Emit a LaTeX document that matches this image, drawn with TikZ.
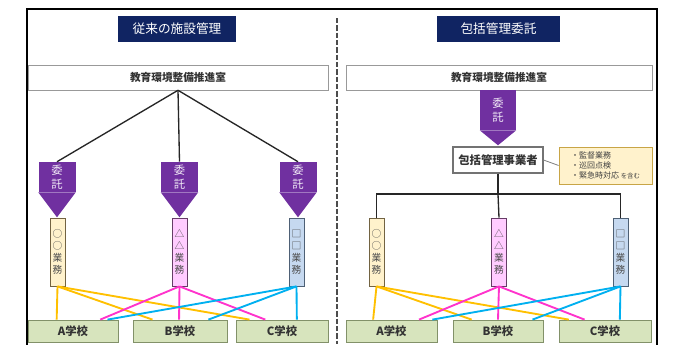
\documentclass[tikz,border=0pt]{standalone}
\usepackage{fontspec}
\setmainfont{Noto Sans CJK JP}
\usetikzlibrary{calc}
\definecolor{navy}{RGB}{16,36,98}
\definecolor{purp}{RGB}{112,48,160}
\definecolor{ylf}{RGB}{255,242,204}
\definecolor{yld}{RGB}{190,165,110}
\definecolor{pkf}{RGB}{255,204,255}
\definecolor{pkd}{RGB}{170,100,170}
\definecolor{blf}{RGB}{198,217,240}
\definecolor{bld}{RGB}{130,160,195}
\definecolor{grf}{RGB}{215,228,189}
\definecolor{grd}{RGB}{130,145,105}
\definecolor{yline}{RGB}{255,192,0}
\definecolor{pline}{RGB}{255,51,204}
\definecolor{bline}{RGB}{0,176,240}
\definecolor{notef}{RGB}{255,242,204}
\definecolor{noted}{RGB}{200,165,70}
\tikzset{
  titlebox/.style={fill=navy, text=white, inner sep=0, minimum height=26*0.75pt, font=\fontsize{9.5}{11}\selectfont},
  headbox/.style={draw=black!40, fill=white, inner sep=0, minimum height=25*0.75pt, font=\bfseries\fontsize{8}{10}\selectfont, text=black!80},
  arrbody/.style={fill=purp, text=white!90!purp, inner sep=0, minimum width=37*0.75pt, align=center, font=\fontsize{8.5}{11}\selectfont},
  strip/.style={draw=#1!60!black, line width=0.6pt, inner sep=0, minimum width=15*0.75pt, minimum height=68*0.75pt, align=center, font=\fontsize{7.3}{9}\selectfont, text=black!70},
  school/.style={draw=grd, fill=grf, line width=0.6pt, inner sep=0, minimum height=22*0.75pt, font=\bfseries\fontsize{8.5}{10}\selectfont, text=black!80},
  conn/.style={draw=black!85, line width=1pt},
  yl/.style={draw=yline, line width=1.4pt},
  pl/.style={draw=pline, line width=1.4pt},
  bl/.style={draw=bline, line width=1.4pt},
}
\newcommand{\tip}[2]{\fill[purp] (#1.south west) -- (#1.south east) -- ($(#1.south)+(0,#2)$) -- cycle;}
\begin{document}
\begin{tikzpicture}[x=0.75pt,y=-0.75pt]
\useasboundingbox (0,0) rectangle (676,344);
\fill[white] (0,0) rectangle (676,344);
% frame
\draw[line width=2pt] (27,345) -- (27,9) -- (657,9) -- (657,345);
\draw[black!70, line width=1pt, dash pattern=on 4pt off 1.5pt] (337,18) -- (337,344);
% titles
\node[titlebox, minimum width=118*0.75pt] (t1) at (177,29) {従来の施設管理};
\node[titlebox, minimum width=123*0.75pt] (t2) at (498.5,29) {包括管理委託};
% headers
\node[headbox, minimum width=300*0.75pt] (h1) at (178,77.5) {教育環境整備推進室};
\node[headbox, minimum width=306*0.75pt] (h2) at (499,77.5) {教育環境整備推進室};
% left arrows
\node[arrbody, minimum height=30*0.75pt] (w1) at (57,177) {委\\託};
\node[arrbody, minimum height=30*0.75pt] (w2) at (179.5,177) {委\\託};
\node[arrbody, minimum height=30*0.75pt] (w3) at (298,177) {委\\託};
\tip{w1}{25}\tip{w2}{25}\tip{w3}{25}
\draw[conn] (h1.south) -- (w1.north);
\draw[conn] (h1.south) -- (w2.north);
\draw[conn] (h1.south) -- (w3.north);
% left strips
\node[strip=yld, fill=ylf] (s1) at (57.5,252) {○\\○\\業\\務};
\node[strip=pkd, fill=pkf] (s2) at (179.5,252) {△\\△\\業\\務};
\node[strip=bld, fill=blf] (s3) at (296.5,252) {□\\□\\業\\務};
% left schools
\node[school, minimum width=90*0.75pt] (a1) at (73,331) {A学校};
\node[school, minimum width=94*0.75pt] (b1) at (180,331) {B学校};
\node[school, minimum width=92*0.75pt] (c1) at (282,331) {C学校};
% right arrow
\node[arrbody, minimum width=36*0.75pt, minimum height=40*0.75pt] (w4) at (498,110) {委\\託};
\tip{w4}{15}
% business
\node[draw=black!55, fill=white, line width=0.8pt, inner sep=0, minimum width=90*0.75pt, minimum height=26*0.75pt, font=\bfseries\fontsize{8.5}{10}\selectfont, text=black!80] (bx) at (498,160) {包括管理事業者};
\node[draw=noted, fill=notef, line width=0.6pt, inner sep=0, minimum width=93*0.75pt, minimum height=37*0.75pt, align=left, font=\fontsize{6}{7.6}\selectfont, text=black!75] (nt) at (605.5,165.5) {・監督業務\\・巡回点検\\・緊急時対応 {\fontsize{4.8}{6}\selectfont を含む}};
\draw[black!50, line width=0.6pt] (bx.east) -- (nt.west);
% right strips
\node[strip=yld, fill=ylf] (s4) at (376.5,252) {○\\○\\業\\務};
\node[strip=pkd, fill=pkf] (s5) at (499,252) {△\\△\\業\\務};
\node[strip=bld, fill=blf] (s6) at (620.5,252) {□\\□\\業\\務};
\coordinate (j) at (498,194);
\draw[conn] (bx.south) -- (j);
\draw[conn] (s4.north) |- (j) -| (s6.north);
\draw[conn] (j) -- (s5.north);
% right schools
\node[school, minimum width=91*0.75pt] (a2) at (391.5,331) {A学校};
\node[school, minimum width=90*0.75pt] (b2) at (498,331) {B学校};
\node[school, minimum width=92*0.75pt] (c2) at (605,331) {C学校};
% left lines
\draw[yl] (s1.south) -- ($(a1.north west)!0.32!(a1.north east)$);
\draw[yl] (s1.south) -- ($(b1.north west)!0.21!(b1.north east)$);
\draw[yl] (s1.south) -- ($(c1.north west)!0.15!(c1.north east)$);
\draw[pl] (s2.south) -- ($(a1.north west)!0.80!(a1.north east)$);
\draw[pl] (s2.south) -- ($(b1.north west)!0.49!(b1.north east)$);
\draw[pl] (s2.south) -- ($(c1.north west)!0.32!(c1.north east)$);
\draw[bl] (s3.south) -- ($(a1.north west)!0.88!(a1.north east)$);
\draw[bl] (s3.south) -- ($(b1.north west)!0.80!(b1.north east)$);
\draw[bl] (s3.south) -- ($(c1.north west)!0.66!(c1.north east)$);
% right lines
\draw[yl] (s4.south) -- ($(a2.north west)!0.30!(a2.north east)$);
\draw[yl] (s4.south) -- ($(b2.north west)!0.21!(b2.north east)$);
\draw[yl] (s4.south) -- ($(c2.north west)!0.11!(c2.north east)$);
\draw[pl] (s5.south) -- ($(a2.north west)!0.80!(a2.north east)$);
\draw[pl] (s5.south) -- ($(b2.north west)!0.50!(b2.north east)$);
\draw[pl] (s5.south) -- ($(c2.north west)!0.28!(c2.north east)$);
\draw[bl] (s6.south) -- ($(a2.north west)!0.945!(a2.north east)$);
\draw[bl] (s6.south) -- ($(b2.north west)!0.88!(b2.north east)$);
\draw[bl] (s6.south) -- ($(c2.north west)!0.66!(c2.north east)$);
\end{tikzpicture}
\end{document}
